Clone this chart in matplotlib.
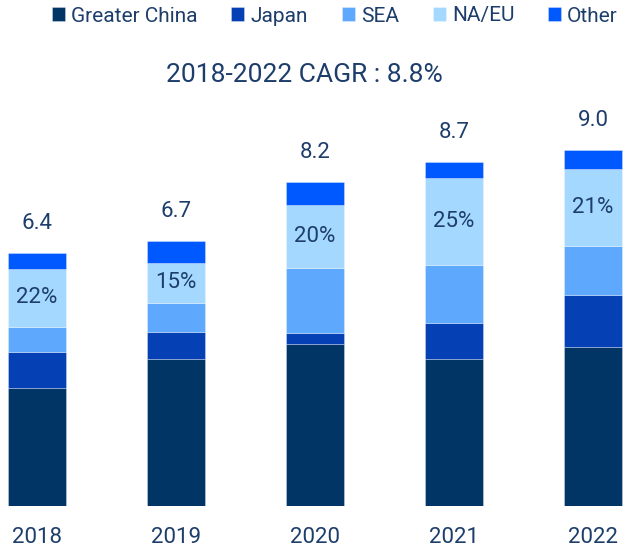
import matplotlib
matplotlib.use("Agg")
import matplotlib.pyplot as plt
import numpy as np

years = ["2018", "2019", "2020", "2021", "2022"]
series_names = ["Greater China", "Japan", "SEA", "NA/EU", "Other"]
greater_china = [2.97, 3.70, 4.09, 3.70, 4.01]
japan = [0.92, 0.69, 0.29, 0.92, 1.31]
sea = [0.64, 0.74, 1.64, 1.47, 1.26]
na_eu = [1.45, 1.01, 1.59, 2.19, 1.93]
other = [0.42, 0.56, 0.59, 0.42, 0.49]
totals = [6.4, 6.7, 8.2, 8.7, 9.0]
na_eu_share = ["22%", "15%", "20%", "25%", "21%"]
title_text = "2018-2022 CAGR : 8.8%"

colors = ["#003566", "#0540B5", "#5EA9FD", "#A4D8FF", "#0059FF"]
text_color = "#1d3d6b"

plt.rcParams["font.family"] = ["Roboto", "DejaVu Sans"]

W, H = 629, 548
fig = plt.figure(figsize=(W / 100, H / 100), dpi=100)
bottom_px = 505.7
top_px = 100
ax = fig.add_axes([0, (H - bottom_px) / H, 1, (bottom_px - top_px) / H])
px_per_unit = 39.53
ax.set_ylim(0, (bottom_px - top_px) / px_per_unit)
spacing = 139
ax.set_xlim(-37 / spacing, (W - 37) / spacing)

x = np.arange(len(years))
width = 58 / spacing
series = [greater_china, japan, sea, na_eu, other]
base = np.zeros(len(years))
handles = []
for name, vals, c in zip(series_names, series, colors):
    vals = np.array(vals)
    b = ax.bar(x, vals, width, bottom=base, color=c, label=name,
               edgecolor=(1, 1, 1, 0.35), linewidth=0.6)
    handles.append(b)
    if name == "NA/EU":
        for xi, bo, v, s in zip(x, base, vals, na_eu_share):
            ax.text(xi, bo + v / 2, s, ha="center", va="center",
                    fontsize=16, color=text_color)
    base = base + vals

for xi, top, t in zip(x, base, totals):
    ax.annotate(f"{t:.1f}", (xi, top), xytext=(0, 17), textcoords="offset points",
                ha="center", va="baseline", fontsize=16, color=text_color)

for s in ax.spines.values():
    s.set_visible(False)
ax.set_yticks([])
ax.set_xticks(x)
ax.set_xticklabels(years)
ax.tick_params(axis="x", length=0, pad=15, labelsize=16, labelcolor=text_color)

fig.text(304 / W, 1 - 75 / H, title_text, ha="center", va="center",
         fontsize=19, color=text_color)

fig.legend(handles=handles, labels=series_names, loc="center left",
           bbox_to_anchor=(52 / W, 1 - 16 / H), ncol=5, frameon=False,
           fontsize=15, handlelength=0.62, handleheight=0.62,
           handletextpad=0.3, columnspacing=1.62, borderpad=0, borderaxespad=0,
           labelcolor=text_color)

fig.savefig("out.png", dpi=100)
